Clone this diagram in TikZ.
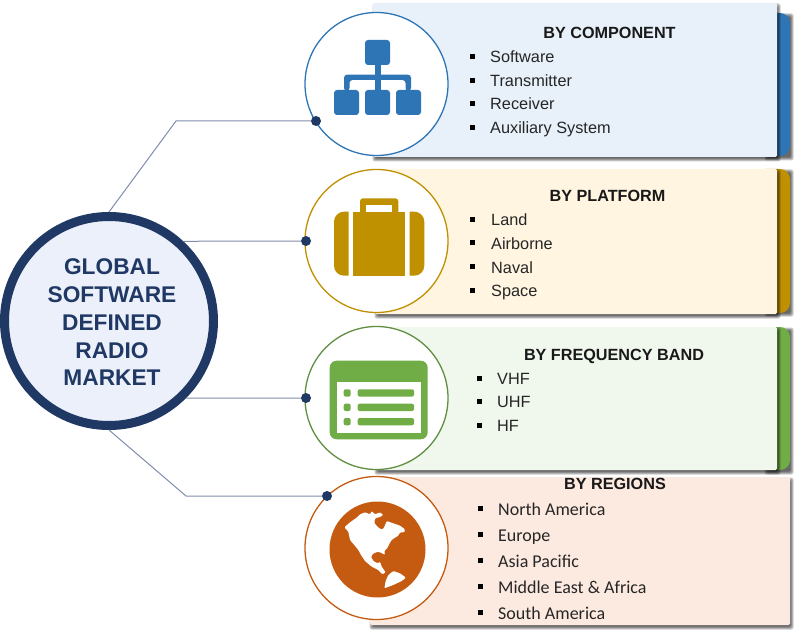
\documentclass[tikz,border=0pt]{standalone}
\usepackage{fontspec}
\setmainfont{Liberation Sans}
\newfontfamily\calfont{Carlito}
\definecolor{navy}{HTML}{1F3864}
\definecolor{mainfill}{HTML}{EBF0FA}
\definecolor{linecol}{HTML}{7F8CAB}
\definecolor{cblue}{HTML}{2E75B6}
\definecolor{cgold}{HTML}{BF9000}
\definecolor{cgreen}{HTML}{70AD47}
\definecolor{cgreend}{HTML}{5F8F41}
\definecolor{corange}{HTML}{C55A11}
\definecolor{pblue}{HTML}{E8F1FA}
\definecolor{pgold}{HTML}{FFF5E1}
\definecolor{pgreen}{HTML}{F0F7EC}
\definecolor{porange}{HTML}{FCEAE0}
\tikzset{
  panelbox/.style={rectangle,inner sep=0,outer sep=0,anchor=north west,rounded corners=1.5pt},
  ringnode/.style={circle,inner sep=0,outer sep=0,minimum size=143pt,fill=white,line width=1.3pt},
  hubnode/.style={circle,inner sep=0,outer sep=4.5pt,minimum size=209pt,fill=mainfill,draw=navy,line width=9pt},
  dotnode/.style={circle,inner sep=0,outer sep=0,minimum size=10pt,fill=navy},
  headtext/.style={anchor=base,inner sep=0,font=\bfseries\fontsize{16.2}{16}\selectfont,text=black!90},
  itemtext/.style={anchor=base west,inner sep=0,font=\fontsize{16.3}{16}\selectfont,text=black!85},
  regtext/.style={anchor=base west,inner sep=0,font=\calfont\fontsize{18}{18}\selectfont,text=black!85},
  bulletnode/.style={rectangle,inner sep=0,outer sep=0,minimum size=5pt,fill=black},
  conn/.style={draw=linecol,line width=1pt},
  hubtext/.style={anchor=base,inner sep=0,font=\bfseries\fontsize{22.7}{22}\selectfont,text=navy}
}
\newcommand{\softshadow}[4]{%
  \foreach \d in {2,1,0,-1}{%
    \fill[black,opacity=.2,rounded corners=2pt] ({#1+1.5-\d},{#2+2.5-\d}) rectangle ({#3+1.5+\d},{#4+2.5+\d});}}
\begin{document}
\begin{tikzpicture}[x=1pt,y=-1pt]
\useasboundingbox (0,0) rectangle (800,636);
% tabs and panels
\softshadow{765}{13}{790}{156}
\fill[cblue,rounded corners=10pt] (755,13) rectangle (790,156);
\softshadow{373}{3}{777}{157}
\node[panelbox,fill=pblue,minimum width=404pt,minimum height=154pt] (p1) at (373,3) {};
\softshadow{765}{169}{790}{312}
\fill[cgold,rounded corners=10pt] (755,169) rectangle (790,313);
\softshadow{375}{169}{777}{314}
\node[panelbox,fill=pgold,minimum width=402pt,minimum height=145pt] (p2) at (375,169) {};
\softshadow{765}{327}{790}{470}
\fill[cgreen,rounded corners=10pt] (755,327) rectangle (790,470);
\softshadow{375}{327}{777}{470}
\node[panelbox,fill=pgreen,minimum width=402pt,minimum height=143pt] (p3) at (375,327) {};
\softshadow{370}{477}{790}{625}
\node[panelbox,fill=porange,minimum width=420pt,minimum height=148pt] (p4) at (370,477) {};
% rings
\node[ringnode,draw=cblue] (r1) at (376.5,84) {};
\node[ringnode,draw=cgold] (r2) at (376.5,241) {};
\node[ringnode,draw=cgreend] (r3) at (376.5,398) {};
\node[ringnode,draw=corange] (r4) at (376.5,548) {};
% hub
\node[hubnode] (hub) at (109,321) {};
\node[hubtext] (h1) at (112,275) {GLOBAL};
\node[hubtext] (h2) at (112,302.5) {SOFTWARE};
\node[hubtext] (h3) at (112,330) {DEFINED};
\node[hubtext] (h4) at (112,358) {RADIO};
\node[hubtext] (h5) at (112,385) {MARKET};
% connectors
\node[dotnode] (d1) at (316,121) {};
\node[dotnode] (d2) at (306,241) {};
\node[dotnode] (d3) at (306,398) {};
\node[dotnode] (d4) at (327,496) {};
\coordinate (k1) at (176,121);
\coordinate (k4) at (186,496);
\draw[conn] (hub.north) -- (k1) -- (d1);
\draw[conn] (hub.47.2) -- (d2);
\draw[conn] (hub.-45) -- (d3);
\draw[conn] (hub.south) -- (k4) -- (d4);
% icon 1
\begin{scope}[cblue]
\fill[rounded corners=3pt] (365,40) rectangle (390,65);
\fill[rounded corners=3pt] (334,90) rectangle (359,115);
\fill[rounded corners=3pt] (365,90) rectangle (390,115);
\fill[rounded corners=3pt] (396,90) rectangle (421,115);
\fill (375,64) rectangle (380.7,91);
\fill[rounded corners=3pt] (344,91) -- (344,74.7) -- (411,74.7) -- (411,91) -- (405.5,91) -- (405.5,80) -- (349.5,80) -- (349.5,91) -- cycle;
\end{scope}
% icon 2
\begin{scope}[cgold]
\fill (348.7,211.7) -- (344,211.7) .. controls (338.5,211.7) and (334,216.2) .. (334,221.7) -- (334,265.7) .. controls (334,271.2) and (338.5,275.7) .. (344,275.7) -- (348.7,275.7) -- cycle;
\fill (353.3,211.7) rectangle (405,275.7);
\fill (409.7,211.7) -- (414.3,211.7) .. controls (419.8,211.7) and (424.3,216.2) .. (424.3,221.7) -- (424.3,265.7) .. controls (424.3,271.2) and (419.8,275.7) .. (414.3,275.7) -- (409.7,275.7) -- cycle;
\fill (360,212) -- (360,201.3) .. controls (360,199.6) and (361.3,198.3) .. (363,198.3) -- (395.3,198.3) .. controls (397,198.3) and (398.3,199.6) .. (398.3,201.3) -- (398.3,212) -- cycle;
\fill[white] (366,205) rectangle (392.3,211.7);
\end{scope}
% icon 3
\fill[cgreen,rounded corners=7pt] (329.7,360.7) rectangle (427.7,439.3);
\fill[white] (336.7,382.3) rectangle (420.7,432.7);
\foreach \yy in {389.3,403.7,418}{
  \fill[cgreen,rounded corners=2pt] (343.7,\yy) rectangle (350.7,\yy+7.3);
  \fill[cgreen,rounded corners=2pt] (357.7,\yy) rectangle (414,\yy+7.3);
}
% icon 4
\fill[corange] (377.5,549.5) circle (48);
\begin{scope}[shift={(325,495)},x=.3333pt,y=-.3333pt]
\fill[white,rounded corners=1pt] (58,97) -- (75,82) -- (95,68) -- (105,58) -- (120,52) -- (135,58) -- (140,48) -- (150,58) -- (165,52) -- (175,60) -- (165,66) -- (150,70) -- (148,84) -- (160,98) -- (172,104) -- (178,96) -- (185,78) -- (205,85) -- (225,92) -- (240,103) -- (238,112) -- (225,112) -- (220,122) -- (210,128) -- (200,135) -- (192,148) -- (188,158) -- (178,168) -- (180,180) -- (172,175) -- (160,170) -- (145,175) -- (138,185) -- (145,198) -- (158,205) -- (165,200) -- (170,215) -- (182,232) -- (172,238) -- (160,225) -- (140,215) -- (120,198) -- (108,180) -- (100,165) -- (92,155) -- (75,135) -- (70,110) -- cycle;
\fill[white,rounded corners=1pt] (178,280) -- (182,258) -- (190,240) -- (205,228) -- (225,235) -- (243,248) -- (230,258) -- (205,270) -- cycle;
\end{scope}
% panel 1 text
\node[headtext] (t1) at (609.5,39) {BY COMPONENT};
\node[bulletnode] (b11) at (472,57) {};
\node[bulletnode] (b12) at (472,80.5) {};
\node[bulletnode] (b13) at (472,104) {};
\node[bulletnode] (b14) at (472,128) {};
\node[itemtext] (i11) at (490,63) {Software};
\node[itemtext] (i12) at (490,86.5) {Transmitter};
\node[itemtext] (i13) at (490,110) {Receiver};
\node[itemtext] (i14) at (490,134) {Auxiliary System};
% panel 2 text
\node[headtext] (t2) at (607.5,202) {BY PLATFORM};
\node[bulletnode] (b21) at (472.5,220) {};
\node[bulletnode] (b22) at (472.5,243) {};
\node[bulletnode] (b23) at (472.5,267) {};
\node[bulletnode] (b24) at (472.5,290) {};
\node[itemtext] (i21) at (491,226) {Land};
\node[itemtext] (i22) at (491,249.5) {Airborne};
\node[itemtext] (i23) at (491,273) {Naval};
\node[itemtext] (i24) at (491,296.5) {Space};
% panel 3 text
\node[headtext] (t3) at (614,360) {BY FREQUENCY BAND};
\node[bulletnode] (b31) at (479,378) {};
\node[bulletnode] (b32) at (479,401) {};
\node[bulletnode] (b33) at (479,425) {};
\node[itemtext] (i31) at (497,384) {VHF};
\node[itemtext] (i32) at (497,407.5) {UHF};
\node[itemtext] (i33) at (497,431) {HF};
% panel 4 text
\node[headtext] (t4) at (615,489) {BY REGIONS};
\node[bulletnode] (b41) at (480,508) {};
\node[bulletnode] (b42) at (480,534) {};
\node[bulletnode] (b43) at (480,560) {};
\node[bulletnode] (b44) at (480,586) {};
\node[bulletnode] (b45) at (480,612) {};
\node[regtext] (i41) at (498,515) {North America};
\node[regtext] (i42) at (498,541) {Europe};
\node[regtext] (i43) at (498,567) {Asia Pacific};
\node[regtext] (i44) at (498,593) {Middle East \& Africa};
\node[regtext] (i45) at (498,619) {South America};
\end{tikzpicture}
\end{document}
